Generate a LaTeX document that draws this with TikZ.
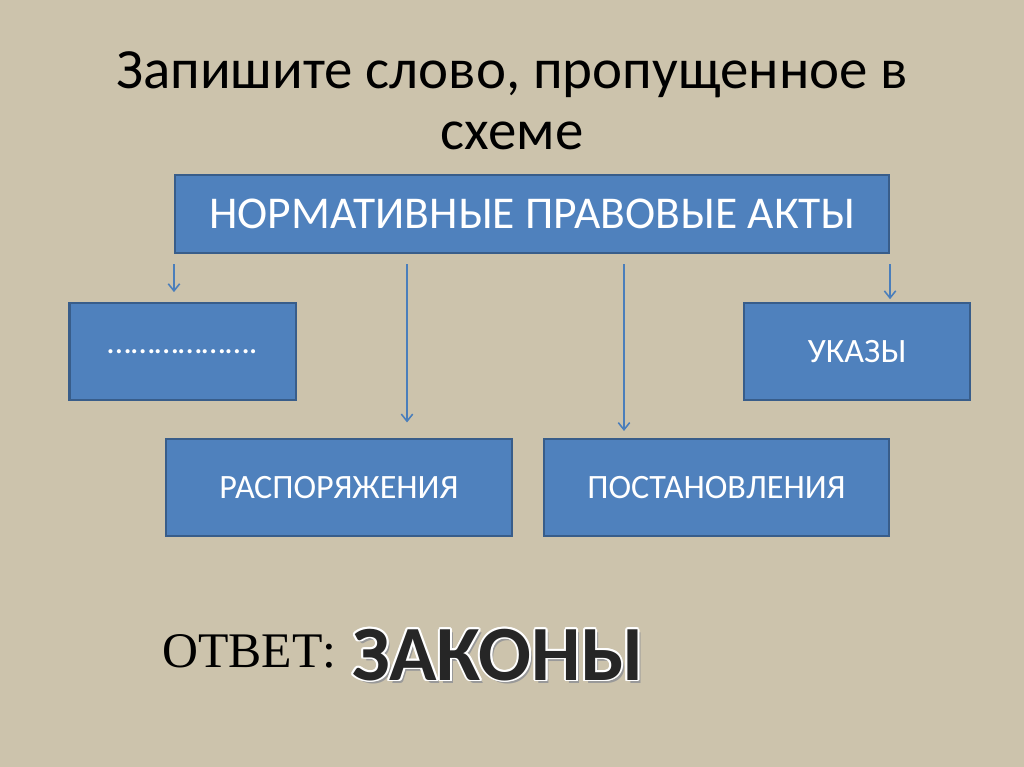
\documentclass[tikz,border=0pt]{standalone}
\usepackage{fontspec}
\setmainfont{Carlito}
\newfontfamily\timesfont{Liberation Serif}
\usetikzlibrary{positioning,arrows.meta}
\definecolor{bgbeige}{RGB}{204,195,172}
\definecolor{boxblue}{RGB}{79,129,189}
\definecolor{boxedge}{RGB}{56,93,138}
\definecolor{arrowblue}{RGB}{74,126,187}
\tikzset{
  box/.style={draw=boxedge, line width=1.5pt, fill=boxblue, text=white,
    inner sep=0pt, minimum height=68pt, font=\fontsize{24}{28}\selectfont},
  link/.style={-{Straight Barb[length=5pt,width=8pt]}, draw=arrowblue, line width=1.1pt}
}

\begin{document}
\begin{tikzpicture}[x=0.703125pt, y=-0.703125pt]
        \fill[bgbeige] (0,0) rectangle (1024,767);
        \useasboundingbox (0,0) rectangle (1024,767);

        \node (title) [align=center, font=\fontsize{40}{43}\selectfont] at (512,101)
            {Запишите слово, пропущенное в\\схеме};

        \node (acts) [box, minimum width=502pt, minimum height=55pt,
            font=\fontsize{32}{36}\selectfont] at (532,214) {НОРМАТИВНЫЕ ПРАВОВЫЕ АКТЫ};

        \node (blank) [box, minimum width=159pt] at (182.5,351.5) {……………….};
        \node (ukazy) [box, minimum width=159pt] at (857,351.5) {УКАЗЫ};
        \node (rasp) [box, minimum width=243pt] at (339,487.5) {РАСПОРЯЖЕНИЯ};
        \node (post) [box, minimum width=243pt] at (716.5,487.5) {ПОСТАНОВЛЕНИЯ};

        \coordinate (raspx) at (407,0);
        \coordinate (postx) at (624,0);

        \draw[link] ([yshift=-7pt]acts.south west) -- ([yshift=7pt]acts.south west |- blank.north);
        \draw[link] ([yshift=-7pt]raspx |- acts.south) -- ([yshift=11pt]raspx |- rasp.north);
        \draw[link] ([yshift=-7pt]postx |- acts.south) -- ([yshift=5pt]postx |- post.north);
        \draw[link] ([yshift=-7pt]acts.south east) -- ([yshift=2pt]acts.south east |- ukazy.north);

        \node (otvet) [anchor=base west, inner sep=0pt, font=\timesfont\fontsize{35}{40}\selectfont]
            at (162,667) {ОТВЕТ:};

        % answer word with light outline and soft shadow
        \node [anchor=base west, inner sep=0pt, text=black!40, font=\bfseries\fontsize{55}{60}\selectfont]
            at (355,683) {ЗАКОНЫ};
        \foreach \a in {0,30,...,330}
            \node [anchor=base west, inner sep=0pt, text=white, font=\bfseries\fontsize{55}{60}\selectfont]
                at ([shift={(\a:1.4pt)}]352,680) {ЗАКОНЫ};
        \node (answer) [anchor=base west, inner sep=0pt, text=black!85, font=\bfseries\fontsize{55}{60}\selectfont]
            at (352,680) {ЗАКОНЫ};
\end{tikzpicture}
\end{document}
